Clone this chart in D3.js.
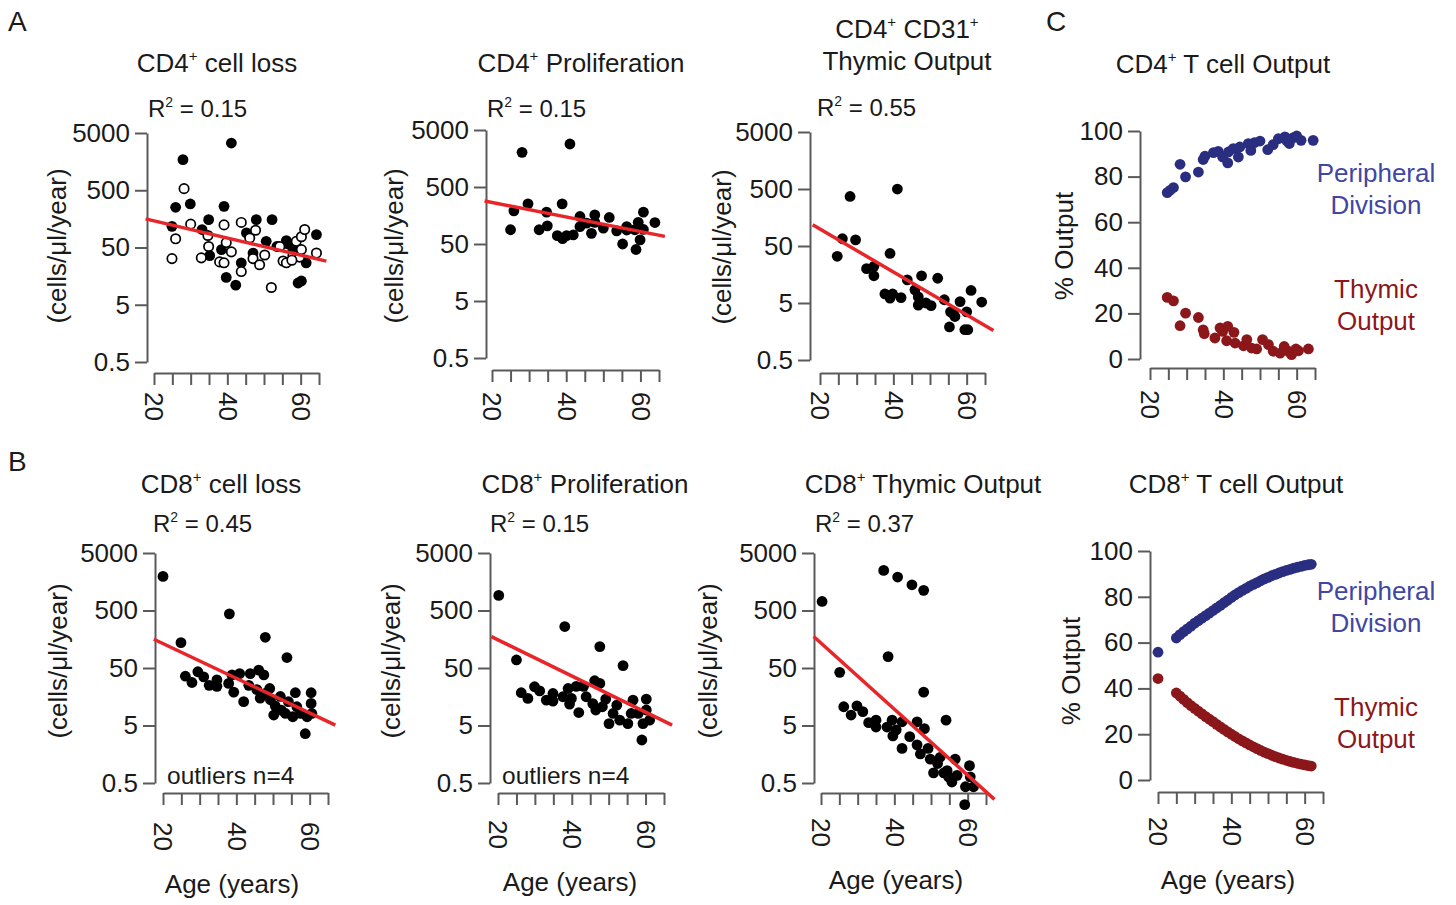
<!DOCTYPE html>
<html>
<head>
<meta charset="utf-8">
<script src="https://cdn.jsdelivr.net/npm/d3@7"></script>
<style>
  body { margin: 0; background: #fff; }
  svg { display: block; font-family: "Liberation Sans", Arial, sans-serif; }
</style>
</head>
<body>
<svg id="fig" width="1456" height="905"></svg>
<script>
// ---- data: [age (years), value] ----
const ageTicks = [20, 25, 30, 35, 40, 45, 50, 55, 60, 65];
const ageLabels = [20, 40, 60];
const rateTicks = [0.5, 5, 50, 500, 5000];
const pctTicks = [0, 20, 40, 60, 80, 100];

const cd4LossFilled = [[27.9,1710],[41.1,3340],[25.9,252],[29.9,288],[39.1,262],[24.9,117],[34.9,153],[47.9,153],[52.2,153],[33.1,103],[35.2,36],[38.4,46],[39.7,15],[42.3,11],[43.8,27],[45.2,90],[47.0,40],[50.6,64],[56.1,66],[56.5,58],[59.3,12],[60.2,13],[64.3,84],[61.5,27],[53.5,52],[57.9,46]];
const cd4LossOpen = [[28.2,533],[30.0,128],[25.9,71],[24.9,32],[32.9,33],[34.9,52],[34.7,81],[39.1,124],[37.9,28],[39.1,27],[41.1,42],[39.7,61],[43.8,137],[43.8,19],[46.1,73],[47.7,100],[47.0,32],[48.8,25],[50.2,37],[52.0,10],[54.3,52],[55.2,29],[56.1,27],[57.9,36],[58.8,64],[60.2,77],[61.1,103],[59.7,34],[57.6,30],[64.3,40],[60.2,46]];
const cd4LossFit = [[17.7,158],[67,28.9]];

const cd4ProlifPts = [[28.1,2030],[41.0,2840],[29.7,253],[38.9,253],[25.9,191],[25.0,89],[34.7,181],[32.7,89],[34.9,104],[37.6,70],[39.0,62],[40.1,70],[41.9,72],[43.7,152],[43.7,101],[45.5,116],[46.8,77],[47.7,162],[47.7,120],[50.0,95],[51.6,146],[53.6,85],[55.2,50],[56.3,101],[56.3,88],[58.5,89],[59.4,120],[60.8,181],[59.9,59],[58.8,40],[63.9,119],[60.8,90]];
const cd4ProlifFit = [[18.0,285],[66.6,68]];

const cd4ThymicPts = [[28.2,370],[41.1,499],[26.1,67],[29.7,64],[24.7,33],[39.1,37],[32.7,20],[34.7,22],[34.7,15],[37.7,7.2],[39.1,6.1],[39.8,7.2],[42.1,6.2],[43.8,12.7],[45.9,8.5],[47.7,15],[46.8,6.4],[46.8,4.6],[48.9,5],[50.3,4.5],[52.1,13.6],[53.9,5.7],[55.6,3.5],[56.8,2.9],[55.3,1.9],[58.2,5.3],[59.5,1.7],[60.3,1.7],[60.0,3.5],[61.2,8.3],[64.1,5.2],[56.4,3.2]];
const cd4ThymicFit = [[18,118],[67.3,1.64]];

const cd4OutPeripheral = [[24.7,73],[25.5,74],[26.4,75.2],[28.2,85.4],[29.7,79.9],[33.2,82],[34.5,87.5],[35.0,89],[37.3,90.5],[38.6,91.1],[39.8,88.6],[41.2,86],[41.4,90.8],[42.7,92.3],[44.1,88.6],[44.5,93],[46.8,94.5],[47.5,91.5],[48.5,94.9],[50.0,95.6],[52.1,91.8],[53.6,94],[55.0,96.6],[56.8,97.4],[58.0,94.5],[59.1,97.1],[60.0,97.8],[61.2,95.9],[64.5,95.9],[57.3,95.8]];
const cd4OutThymic = [[24.7,27],[26.4,25.5],[28.2,14.6],[29.7,20.1],[33.2,18.2],[34.5,12.8],[34.8,11.1],[37.7,9.2],[39.1,13.6],[41.2,14.3],[39.8,12.1],[40.9,8],[42.9,11.7],[43.2,7],[45.5,5.8],[46.4,8.5],[47.7,4.8],[49.1,4.4],[50.7,8.5],[52.3,6.3],[53.6,3.4],[55.5,2.6],[56.6,5.5],[57.7,3.4],[58.6,1.9],[59.8,4.4],[60.5,3.6],[63.2,4.4]];

const cd8LossPts = [[20.0,1960],[38.1,437],[47.9,171],[24.9,138],[53.8,76],[26.1,36],[27.9,28],[29.5,43],[31.1,35],[32.6,25],[34.7,31],[34.7,24],[37.9,27],[38.8,38],[39.3,19],[40.9,40],[42.0,13],[43.4,25],[43.8,40],[46.1,46],[47.5,38],[46.5,15],[47.9,18],[49.1,22],[49.3,14],[50.2,7.6],[50.6,11],[52.0,16],[52.3,9.2],[53.4,8.1],[55.4,7.1],[56.5,10.6],[56.1,18.6],[58.8,3.6],[59.3,7.1],[60.4,18.6],[60.4,12.1],[60.6,8.1],[57.5,8.1],[54.2,13],[45.6,21]];
const cd8LossFit = [[17.5,158],[67,5.07]];

const cd8ProlifPts = [[20.2,914],[38.1,263],[47.6,118],[53.9,55],[25.0,69],[26.3,18.6],[28.1,14.8],[29.9,23.6],[31.3,20],[33.1,13.8],[34.9,18],[34.9,13.3],[37.6,15.8],[39.0,22],[39.9,14.8],[39.4,11.8],[41.9,8.4],[41.2,24],[43.2,24],[43.9,15.8],[46.2,30],[47.6,27],[45.7,12],[46.5,9.3],[48.3,10.6],[49.2,14.4],[50.1,5.4],[51.2,8.1],[52.2,11.3],[53.0,6.2],[55.2,5.4],[56.1,8.1],[56.6,13.8],[59.0,2.8],[59.3,5.4],[60.2,14.4],[60.2,9.3],[61.1,6.2],[58.0,8.1]];
const cd8ProlifFit = [[18.2,176],[67.2,5.07]];

const cd8ThymicPts = [[20.3,718],[37.1,2490],[40.9,1910],[44.8,1400],[48.0,1120],[38.3,79],[25.1,42],[48.0,19],[54.1,6.2],[26.2,10.6],[28.2,7.6],[29.8,11],[31.4,8.7],[33.0,5.6],[35.0,6.2],[35.0,4.7],[38.0,4.7],[39.4,6.2],[39.6,3.3],[40.5,4.2],[42.1,2.0],[42.1,5.8],[44.2,3.2],[46.2,5.8],[46.2,2.3],[47.1,1.6],[48.2,4.4],[49.2,2.0],[49.8,1.3],[50.7,0.75],[51.8,1.09],[52.5,1.4],[53.5,0.75],[54.8,0.64],[55.7,0.52],[56.6,1.3],[57.1,0.68],[59.4,0.43],[60.5,1.0],[60.7,0.64],[61.6,0.43],[59.2,0.21],[54.4,0.82]];
const cd8ThymicFit = [[18,176],[67.3,0.26]];

const cd8OutPeripheral = [[20,55.8],[25,62],[26,63.5],[27,64.8],[28,66],[29,67.2],[30,68.5],[31,69.6],[32,70.7],[33,71.8],[34,72.9],[35,74],[36,75.1],[37,76.2],[38,77.4],[39,78.5],[40,79.7],[41,80.8],[42,81.8],[43,82.8],[44,83.7],[45,84.6],[46,85.4],[47,86.2],[48,87],[49,87.8],[50,88.5],[51,89.2],[52,89.8],[53,90.4],[54,91],[55,91.5],[56,92],[57,92.5],[58,92.9],[59,93.3],[60,93.7],[61,94],[61.8,94.2]];
const cd8OutThymic = [[20,44.3],[25,38],[26,36.6],[27,35.2],[28,33.8],[29,32.5],[30,31.3],[31,30.1],[32,28.9],[33,27.7],[34,26.6],[35,25.5],[36,24.3],[37,23.2],[38,22.1],[39,21],[40,20],[41,19],[42,18],[43,17.1],[44,16.2],[45,15.3],[46,14.5],[47,13.7],[48,12.9],[49,12.2],[50,11.5],[51,10.8],[52,10.2],[53,9.6],[54,9.1],[55,8.6],[56,8.1],[57,7.7],[58,7.3],[59,6.9],[60,6.6],[61,6.3],[61.8,6.1]];

// ---- styling ----
const ink = "#1a1a1a";
const axisGrey = "#5a5a5a";
const fitRed = "#e8262a";
const navy = "#2a2e80";
const maroon = "#8c171b";
const navyText = "#3f47a3";
const fs = 26;

const svg = d3.select("#fig");
svg.append("rect").attr("width", 1456).attr("height", 905).attr("fill", "#fff");

// text with "^x" marking a superscript character
function richText(parent, str, x, y, opts = {}) {
  const size = opts.size || fs;
  const t = parent.append("text")
    .attr("x", x).attr("y", y)
    .attr("font-size", size)
    .attr("fill", opts.color || ink)
    .attr("text-anchor", opts.anchor || "middle");
  if (opts.transform) t.attr("transform", opts.transform);
  if (opts.dy) t.attr("dy", opts.dy);
  const parts = str.split(/(\^.)/).filter((s) => s.length);
  let raised = false;
  parts.forEach((part) => {
    if (part.startsWith("^")) {
      t.append("tspan").attr("font-size", size * 0.58).attr("dy", -size * 0.42).text(part.slice(1));
      raised = true;
    } else {
      const span = t.append("tspan").text(part);
      if (raised) span.attr("dy", size * 0.42);
      raised = false;
    }
  });
  return t;
}

function styleAxis(axis) {
  axis.attr("font-size", fs).attr("font-family", "Liberation Sans, Arial, sans-serif");
  axis.selectAll("line").attr("stroke", axisGrey).attr("stroke-width", 2);
  axis.select(".domain").attr("stroke", axisGrey).attr("stroke-width", 2);
  axis.selectAll("text").attr("fill", ink);
}

function drawPanel(p) {
  const g = svg.append("g");
  const x = d3.scaleLinear().domain([20, 65]).range([p.x0, p.x1]);
  const y = p.pct
    ? d3.scaleLinear().domain([0, 100]).range([p.yb, p.yt])
    : d3.scaleLog().domain([0.5, 5000]).range([p.yb, p.yt]);

  g.append("g")
    .attr("transform", `translate(${p.ax},0)`)
    .call(d3.axisLeft(y).tickValues(p.pct ? pctTicks : rateTicks).tickFormat((d) => d).tickSize(12).tickPadding(5).tickSizeOuter(0))
    .call(styleAxis);

  g.append("g")
    .attr("transform", `translate(0,${p.ay})`)
    .call(d3.axisBottom(x).tickValues(ageTicks).tickFormat((d) => (ageLabels.includes(d) ? d : "")).tickSize(12).tickSizeOuter(0))
    .call(styleAxis)
    .call((axis) => axis.selectAll("text")
      .attr("transform", "rotate(90)")
      .attr("x", p.labOff).attr("y", 0).attr("dy", "0.35em")
      .attr("text-anchor", "start"));

  (p.series || []).forEach((s) => {
    g.append("g").selectAll("circle")
      .data(s.data)
      .join("circle")
      .attr("cx", (d) => x(d[0]))
      .attr("cy", (d) => y(d[1]))
      .attr("r", s.open ? 4.7 : 5.4)
      .attr("fill", s.open ? "#fff" : s.color)
      .attr("stroke", s.open ? s.color : "none")
      .attr("stroke-width", s.open ? 1.7 : 0);
  });

  if (p.fit) {
    g.append("path")
      .datum(p.fit)
      .attr("fill", "none")
      .attr("stroke", fitRed)
      .attr("stroke-width", 3.5)
      .attr("d", d3.line().x((d) => x(d[0])).y((d) => y(d[1])));
  }

  p.title.forEach((line, i) => richText(g, line, p.tx, p.ty[i]));
  if (p.r2) richText(g, p.r2, p.rx, p.ry, { anchor: "start", size: 24 });
  richText(g, p.pct ? "% Output" : "(cells/μl/year)", 0, 0, {
    transform: `translate(${p.lx},${p.ly}) rotate(-90)`, dy: "0.35em"
  });
  if (p.ageLabel) richText(g, "Age (years)", p.ageLabel[0], p.ageLabel[1]);
  if (p.outliers) richText(g, "outliers n=4", p.outliers[0], p.outliers[1], { anchor: "start", size: 24.5 });
  if (p.legend) {
    const [cx, py] = p.legend;
    richText(g, "Peripheral", cx, py, { color: navyText });
    richText(g, "Division", cx, py + 32, { color: navyText });
    richText(g, "Thymic", cx, py + 116, { color: maroon });
    richText(g, "Output", cx, py + 148, { color: maroon });
  }
}

const panels = [
  { x0: 154, x1: 319, ax: 147, ay: 373, yb: 362, yt: 133, labOff: 19,
    series: [{ data: cd4LossFilled, color: "#000" }, { data: cd4LossOpen, color: "#000", open: true }],
    fit: cd4LossFit, title: ["CD4^+ cell loss"], tx: 217, ty: [72], r2: "R^2 = 0.15", rx: 148, ry: 117, lx: 57, ly: 246 },
  { x0: 492, x1: 659, ax: 486, ay: 370, yb: 358, yt: 130, labOff: 22,
    series: [{ data: cd4ProlifPts, color: "#000" }],
    fit: cd4ProlifFit, title: ["CD4^+ Proliferation"], tx: 581, ty: [72], r2: "R^2 = 0.15", rx: 487, ry: 117, lx: 394, ly: 246 },
  { x0: 820, x1: 985, ax: 810, ay: 373, yb: 360, yt: 132, labOff: 18,
    series: [{ data: cd4ThymicPts, color: "#000" }],
    fit: cd4ThymicFit, title: ["CD4^+ CD31^+", "Thymic Output"], tx: 907, ty: [38, 70], r2: "R^2 = 0.55", rx: 817, ry: 116, lx: 722, ly: 247 },
  { x0: 1150, x1: 1315, ax: 1140, ay: 368, yb: 359, yt: 131, labOff: 22, pct: true,
    series: [{ data: cd4OutPeripheral, color: navy }, { data: cd4OutThymic, color: maroon }],
    title: ["CD4^+ T cell Output"], tx: 1223, ty: [73], lx: 1064, ly: 246, legend: [1376, 182] },
  { x0: 163, x1: 328, ax: 155, ay: 793, yb: 783, yt: 553, labOff: 29,
    series: [{ data: cd8LossPts, color: "#000" }],
    fit: cd8LossFit, title: ["CD8^+ cell loss"], tx: 221, ty: [493], r2: "R^2 = 0.45", rx: 153, ry: 532, lx: 58, ly: 661,
    ageLabel: [232, 893], outliers: [167, 784] },
  { x0: 498, x1: 664, ax: 490, ay: 793, yb: 783, yt: 553, labOff: 27,
    series: [{ data: cd8ProlifPts, color: "#000" }],
    fit: cd8ProlifFit, title: ["CD8^+ Proliferation"], tx: 585, ty: [493], r2: "R^2 = 0.15", rx: 490, ry: 532, lx: 391, ly: 661,
    ageLabel: [570, 891], outliers: [502, 784] },
  { x0: 821, x1: 986, ax: 814, ay: 793, yb: 783, yt: 553, labOff: 25,
    series: [{ data: cd8ThymicPts, color: "#000" }],
    fit: cd8ThymicFit, title: ["CD8^+ Thymic Output"], tx: 923, ty: [493], r2: "R^2 = 0.37", rx: 815, ry: 532, lx: 708, ly: 661,
    ageLabel: [896, 889] },
  { x0: 1158, x1: 1323, ax: 1150, ay: 792, yb: 780, yt: 551, labOff: 25, pct: true,
    series: [{ data: cd8OutPeripheral, color: navy }, { data: cd8OutThymic, color: maroon }],
    title: ["CD8^+ T cell Output"], tx: 1236, ty: [493], lx: 1071, ly: 671, legend: [1376, 600],
    ageLabel: [1228, 889] }
];

panels.forEach(drawPanel);

// panel letters
[["A", 8, 31], ["B", 8, 471], ["C", 1046, 31]].forEach(([letter, lx, ly]) => {
  svg.append("text").attr("x", lx).attr("y", ly).attr("font-size", 28).attr("fill", ink).text(letter);
});
</script>
</body>
</html>
